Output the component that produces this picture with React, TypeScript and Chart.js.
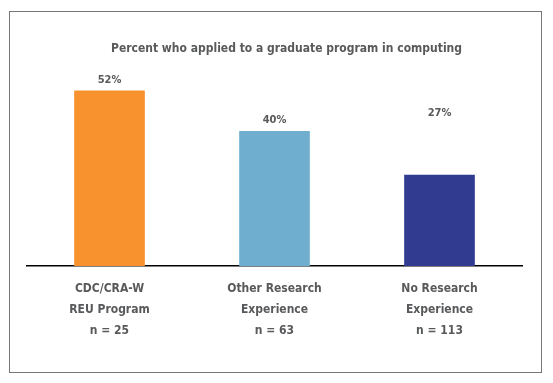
import { useEffect, useRef } from "react";
import { Chart, registerables } from "chart.js";

Chart.register(...registerables);

// ---- data ----
const categories: string[][] = [
  ["CDC/CRA-W", "REU Program", "n = 25"],
  ["Other Research", "Experience", "n = 63"],
  ["No Research", "Experience", "n = 113"],
];
const percentApplied: number[] = [52, 40, 27];
const valueLabels: string[] = ["52%", "40%", "27%"];
// value-scale level each value label sits on (the 27% label floats higher in the source)
const labelAnchors: number[] = [52, 40, 42];
const yMax = 60;
const chartTitle = "Percent who applied to a graduate program in computing";

const barColors = ["#F7922F", "#6FAECE", "#313C91"];
const TEXT = "#58595B";
const FONT = '"Liberation Sans Narrow", "DejaVu Sans Condensed", Roboto, sans-serif';

const labelPlugin = {
  id: "valueAndTitle",
  afterDatasetsDraw(chart: any) {
    const ctx = chart.ctx as CanvasRenderingContext2D;
    const meta = chart.getDatasetMeta(0);
    const y = chart.scales.y;
    ctx.save();
    ctx.fillStyle = TEXT;
    ctx.textAlign = "center";
    ctx.textBaseline = "middle";
    ctx.font = `bold 11px ${FONT}`;
    meta.data.forEach((bar: any, i: number) => {
      ctx.fillText(valueLabels[i], bar.x, y.getPixelForValue(labelAnchors[i]) - 11);
    });
    ctx.font = `bold 12px ${FONT}`;
    ctx.fillText(chartTitle, chart.width / 2 + 10, 49);
    ctx.restore();
  },
};

export default function App() {
  const ref = useRef<HTMLCanvasElement | null>(null);
  useEffect(() => {
    if (!ref.current) return;
    const chart = new Chart(ref.current, {
      type: "bar",
      data: {
        labels: categories,
        datasets: [
          {
            data: percentApplied,
            backgroundColor: barColors,
            borderWidth: 0,
            barThickness: 70,
          },
        ],
      },
      options: {
        animation: false,
        responsive: false,
        layout: { padding: { left: 27, right: 31, top: 64, bottom: 30 } },
        plugins: {
          legend: { display: false },
          tooltip: { enabled: false },
          title: { display: false },
        },
        scales: {
          x: {
            grid: { display: false, drawTicks: false },
            border: { display: true, color: "#000000", width: 1.5 },
            ticks: {
              color: TEXT,
              padding: 12,
              font: { family: FONT, size: 12, weight: "bold", lineHeight: 1.75 },
            },
          },
          y: {
            display: false,
            min: 0,
            max: yMax,
          },
        },
      },
      plugins: [labelPlugin],
    });
    return () => chart.destroy();
  }, []);

  return (
    <div style={{ position: "absolute", left: 0, top: 0, width: 553, height: 383, background: "#fff" }}>
      <div
        style={{
          position: "absolute",
          left: 9,
          top: 11,
          width: 533,
          height: 362,
          border: "1.5px solid #777",
          boxSizing: "border-box",
        }}
      />
      <canvas ref={ref} width={553} height={383} style={{ position: "absolute", left: 0, top: 0, display: "block" }} />
    </div>
  );
}
